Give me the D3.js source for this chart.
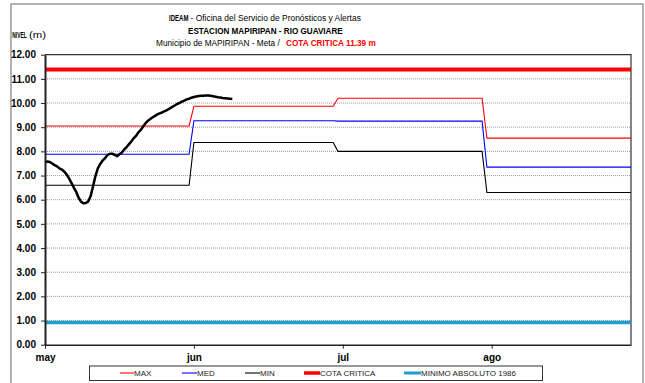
<!DOCTYPE html>
<html>
<head>
<meta charset="utf-8">
<script src="https://cdn.jsdelivr.net/npm/d3@7"></script>
<style>
  body { margin: 0; background: #fff; }
  svg { display: block; font-family: "Liberation Sans", Arial, sans-serif; }
</style>
</head>
<body>
<svg id="chart" width="645" height="383"></svg>
<script>
// Days counted from 1 May; each month's statistic applies from its first day.
const monthStartDays = [0, 31, 61, 92];
const lastDay = 122; // 31 Aug
const maxLevels = [9.05, 9.87, 10.20, 8.55];
const medLevels = [7.88, 9.27, 9.25, 7.35];
const minLevels = [6.60, 8.37, 8.00, 6.30];
const cotaCritica = 11.39;
const minimoAbsoluto = 0.92;

// Observed stage, one reading every half day starting 1 May.
const obsStep = 0.5;
const obsLevels = [
  7.55, 7.58, 7.56, 7.50, 7.43, 7.38, 7.30, 7.25, 7.16, 7.05,
  6.88, 6.70, 6.50, 6.32, 6.08, 5.92, 5.85, 5.86, 5.93, 6.15,
  6.55, 6.98, 7.30, 7.48, 7.62, 7.72, 7.85, 7.90, 7.90, 7.86,
  7.80, 7.88, 7.95, 8.08, 8.18, 8.30, 8.42, 8.55, 8.65, 8.80,
  8.90, 9.05, 9.18, 9.28, 9.35, 9.42, 9.48, 9.54, 9.58, 9.62,
  9.67, 9.72, 9.78, 9.84, 9.90, 9.96, 10.00, 10.06, 10.10, 10.15,
  10.18, 10.22, 10.25, 10.27, 10.29, 10.30, 10.30, 10.31, 10.31, 10.30,
  10.28, 10.26, 10.24, 10.23, 10.21, 10.20, 10.19, 10.18, 10.17
];

const tickDays = [0, 31, 62, 93];
const tickLabels = ["may", "jun", "jul", "ago"];
const yTicks = [0, 1, 2, 3, 4, 5, 6, 7, 8, 9, 10, 11, 12];

const svg = d3.select("#chart");
const plot = { left: 45, right: 631, top: 54.7, bottom: 344.7 };

const x = d3.scaleLinear().domain([0, lastDay]).range([plot.left, plot.right]);
const y = d3.scaleLinear().domain([0, 12]).range([plot.bottom, plot.top]);

// Outer chart frame
svg.append("rect")
  .attr("x", 11).attr("y", 4).attr("width", 632).attr("height", 400)
  .attr("fill", "none").attr("stroke", "#808080").attr("stroke-width", 1.2);

// Condensed heading type: text squeezed horizontally to a given width
function narrowText(xPos, yPos, len, str, opts = {}) {
  const t = svg.append("text")
    .attr("x", 0).attr("y", 0)
    .attr("font-size", opts.size || 9.5)
    .attr("font-weight", opts.bold ? "bold" : "normal")
    .attr("fill", opts.color || "#000")
    .text(str);
  const natural = t.node().getComputedTextLength();
  t.attr("transform", `translate(${xPos},${yPos}) scale(${len / natural},1)`);
}
narrowText(169, 21, 19.5, "IDEAM", { bold: true });
narrowText(190.5, 21, 170.5, "- Oficina del Servicio de Pronósticos y Alertas");
narrowText(188, 33.5, 155, "ESTACION MAPIRIPAN -  RIO GUAVIARE", { bold: true });
narrowText(156, 45.5, 124, "Municipio de MAPIRIPAN -  Meta  /");
narrowText(286, 45.5, 90, "COTA CRITICA 11.39 m", { bold: true, color: "#ff0000" });

// Axis title
narrowText(12.3, 37.5, 14.5, "NIVEL", { bold: true, size: 8.5 });
narrowText(29, 37.5, 17, "(m)", { size: 8.5 });

// Gridlines
svg.append("g").selectAll("line")
  .data(yTicks.filter(v => v > 0 && v < 12))
  .join("line")
  .attr("x1", plot.left).attr("x2", plot.right)
  .attr("y1", d => y(d)).attr("y2", d => y(d))
  .attr("stroke", "#9a9a9a").attr("stroke-width", 1)
  .attr("stroke-dasharray", "1,1");

// Plot frame (top and right)
svg.append("path")
  .attr("d", `M${plot.left},${plot.top}H${plot.right}V${plot.bottom}`)
  .attr("fill", "none").attr("stroke", "#333").attr("stroke-width", 1.2);

// Monthly statistic series expanded to daily points
function dailySeries(levels) {
  const pts = [];
  for (let d = 0; d <= lastDay; d++) {
    const m = d3.bisectRight(monthStartDays, d) - 1;
    pts.push([d, levels[m]]);
  }
  return pts;
}
const line = d3.line().x(d => x(d[0])).y(d => y(d[1]));

const refLines = [
  { v: cotaCritica, color: "#ff0000", w: 4 },
  { v: minimoAbsoluto, color: "#1e9fd0", w: 3.5 }
];
refLines.forEach(r => {
  svg.append("line")
    .attr("x1", plot.left).attr("x2", plot.right)
    .attr("y1", y(r.v)).attr("y2", y(r.v))
    .attr("stroke", r.color).attr("stroke-width", r.w);
});

const statSeries = [
  { levels: maxLevels, color: "#ff0000" },
  { levels: medLevels, color: "#0000ff" },
  { levels: minLevels, color: "#000000" }
];
statSeries.forEach(s => {
  svg.append("path")
    .datum(dailySeries(s.levels))
    .attr("d", line)
    .attr("fill", "none")
    .attr("stroke", s.color)
    .attr("stroke-width", 1.1);
});

// Observed stage
svg.append("path")
  .datum(obsLevels.map((v, i) => [i * obsStep, v]))
  .attr("d", line)
  .attr("fill", "none")
  .attr("stroke", "#000")
  .attr("stroke-width", 2.5)
  .attr("stroke-linejoin", "round");

// Axes
const yAxis = svg.append("g")
  .attr("transform", `translate(${plot.left},0)`)
  .call(d3.axisLeft(y).tickValues(yTicks).tickFormat(d3.format(".2f")).tickSize(4).tickPadding(5).tickSizeOuter(0));
yAxis.select(".domain").attr("stroke", "#222").attr("stroke-width", 2);
yAxis.selectAll(".tick line").attr("stroke", "#222");
yAxis.selectAll("text").attr("font-size", 10).attr("font-weight", "bold")
  .attr("font-family", "Liberation Sans, Arial, sans-serif").attr("fill", "#000");

const xAxis = svg.append("g")
  .attr("transform", `translate(0,${plot.bottom})`)
  .call(d3.axisBottom(x).tickValues(tickDays).tickFormat((d, i) => tickLabels[i]).tickSize(4).tickPadding(5).tickSizeOuter(0));
xAxis.select(".domain").attr("stroke", "#222").attr("stroke-width", 1.5);
xAxis.selectAll(".tick line").attr("stroke", "#222");
xAxis.selectAll("text").attr("font-size", 10).attr("font-weight", "bold")
  .attr("font-family", "Liberation Sans, Arial, sans-serif").attr("fill", "#000");

// Legend
const legendItems = [
  { label: "MAX", color: "#ff0000", w: 1.1, x1: 120, x2: 134 },
  { label: "MED", color: "#0000ff", w: 1.1, x1: 182, x2: 197 },
  { label: "MIN", color: "#000000", w: 1.1, x1: 245, x2: 260 },
  { label: "COTA CRITICA", color: "#ff0000", w: 3.5, x1: 304, x2: 320 },
  { label: "MINIMO ABSOLUTO 1986", color: "#1e9fd0", w: 3, x1: 404, x2: 421 }
];
svg.append("rect")
  .attr("x", 89.5).attr("y", 366).attr("width", 453).attr("height", 14.5)
  .attr("fill", "#fff").attr("stroke", "#333").attr("stroke-width", 1);
const lg = svg.append("g").selectAll("g").data(legendItems).join("g");
lg.append("line")
  .attr("x1", d => d.x1).attr("x2", d => d.x2)
  .attr("y1", 373).attr("y2", 373)
  .attr("stroke", d => d.color).attr("stroke-width", d => d.w);
lg.append("text")
  .attr("x", d => d.x2).attr("y", 375.8)
  .attr("font-size", 8).attr("fill", "#222")
  .text(d => d.label);
</script>
</body>
</html>
